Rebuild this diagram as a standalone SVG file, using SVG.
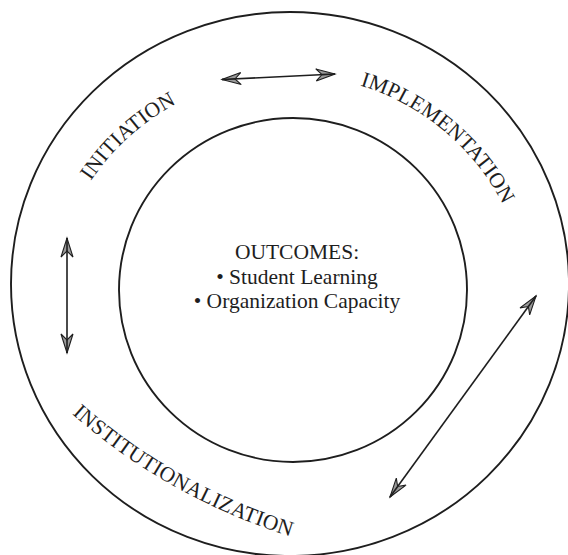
<svg xmlns="http://www.w3.org/2000/svg" width="568" height="555" viewBox="0 0 568 555">
<style>
.ring{fill:none;stroke:#1e1e1e;stroke-width:1.9}
.conn{fill:none;stroke:#1e1e1e;stroke-width:1.6;marker-start:url(#ah);marker-end:url(#ah)}
.lbl{font-family:"Liberation Serif","Times New Roman",serif;font-size:21.5px;fill:#1e1e1e;letter-spacing:0.2px}
.ctr{font-family:"Liberation Serif","Times New Roman",serif;font-size:21.5px;fill:#1e1e1e;text-anchor:middle}
</style>
<defs>
<marker id="ah" markerUnits="userSpaceOnUse" markerWidth="24" markerHeight="16" viewBox="-22 -8 24 16" refX="0" refY="0" orient="auto-start-reverse" overflow="visible">
<path d="M0,0 L-19,-6 L-13,0 L-19,6 Z" fill="#9a9a9a" stroke="#1e1e1e" stroke-width="1.1" stroke-linejoin="miter"/>
<path d="M0,0 L-13,0" stroke="#1e1e1e" stroke-width="1.6"/>
</marker>
<path id="topArc" d="M 50 315 A 240 240 0 0 1 530 315"/>
<path id="botArc" d="M 72 414 A 600 600 0 0 0 310 542"/>
</defs>
<rect width="568" height="555" fill="#ffffff"/>
<g id="outer-ring"><ellipse class="ring" cx="290" cy="284" rx="279" ry="272"/></g>
<g id="outcomes">
<ellipse class="ring" cx="293" cy="290" rx="174" ry="172"/>
<text class="ctr" x="297" y="259">OUTCOMES:</text>
<text class="ctr" x="297" y="284">• Student Learning</text>
<text class="ctr" x="297" y="308">• Organization Capacity</text>
</g>
<g id="initiation"><text class="lbl"><textPath href="#topArc" startOffset="142">INITIATION</textPath></text></g>
<g id="implementation"><text class="lbl"><textPath href="#topArc" startOffset="448">IMPLEMENTATION</textPath></text></g>
<g id="institutionalization"><text class="lbl"><textPath href="#botArc" startOffset="0">INSTITUTIONALIZATION</textPath></text></g>
<g id="connectors">
<line class="conn" x1="222" y1="79.5" x2="335" y2="74"/>
<line class="conn" x1="67" y1="238" x2="67" y2="353"/>
<line class="conn" x1="536" y1="296" x2="390" y2="497"/>
</g>
</svg>
